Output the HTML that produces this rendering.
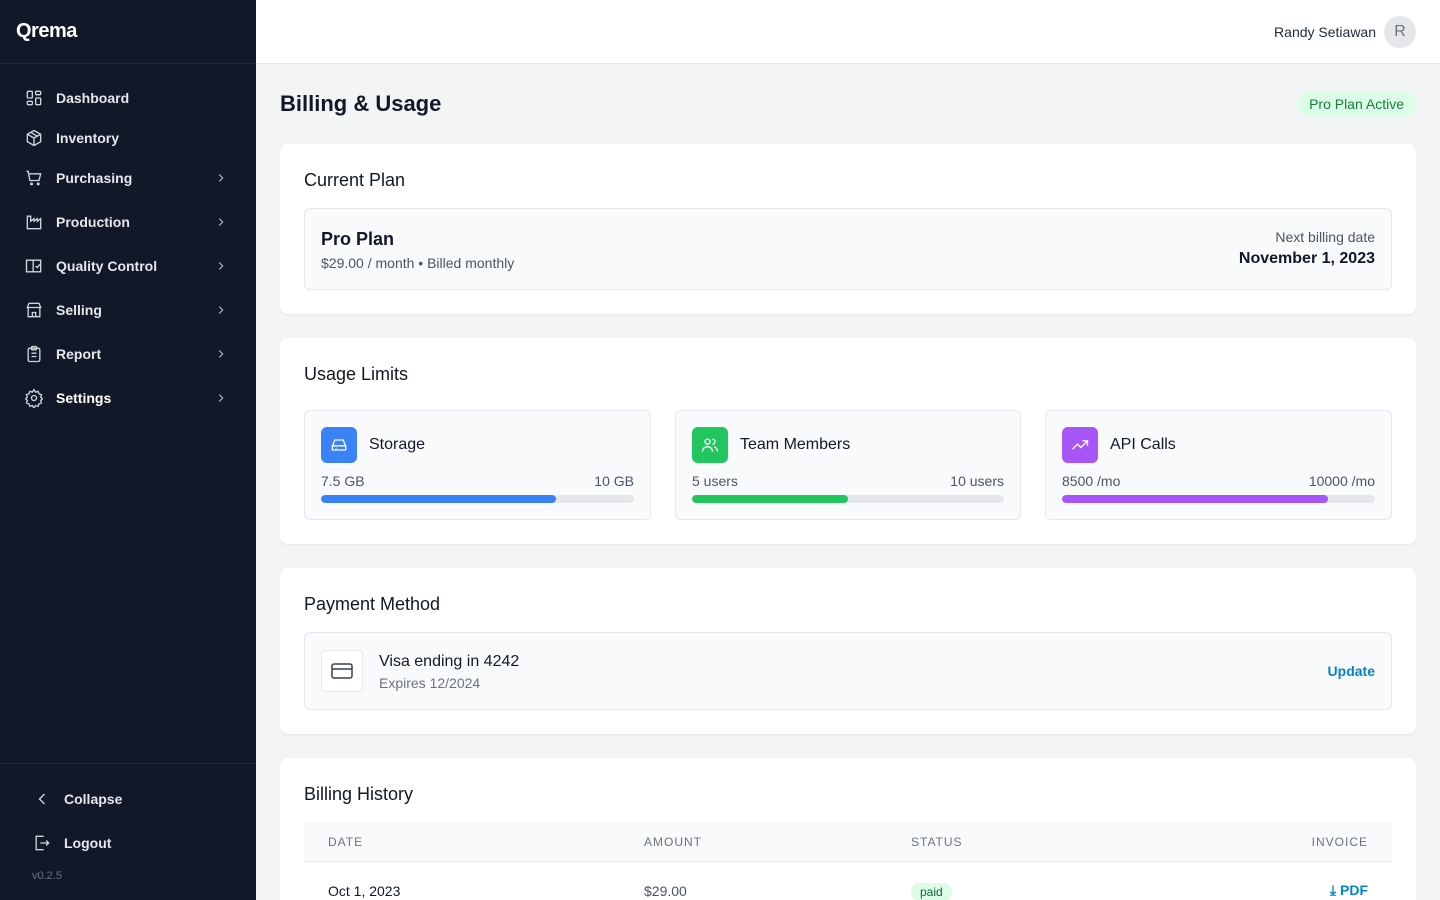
<!DOCTYPE html>
<html><head><meta charset="utf-8"><style>
*{box-sizing:border-box;margin:0;padding:0}
html{width:1440px;height:900px;overflow:hidden}
body{width:1440px;height:900px;overflow:hidden;font-family:"Liberation Sans",sans-serif;background:#f3f4f6;color:#111827;position:relative}
.sb{position:absolute;left:0;top:0;width:256px;height:900px;background:#111827;color:#e5e7eb}
.logo{height:64px;border-bottom:1px solid #1f2937;padding:20px 16px;font-weight:bold;font-size:20px;color:#fff;letter-spacing:-0.5px}
.nav{position:absolute;left:24px;font-size:14px;font-weight:bold;color:#e5e7eb;display:flex;align-items:center;width:210px}
.nav svg{width:20px;height:20px;margin-right:12px;stroke:#d1d5db;fill:none;stroke-width:1.6}
.nav .ch{position:absolute;right:6px;top:3px;width:14px;height:14px;margin:0}
.bot{position:absolute;left:0;top:763px;width:256px;border-top:1px solid #1f2937;height:137px}
.top{position:absolute;left:256px;top:0;right:0;height:64px;background:#fff;border-bottom:1px solid #e5e7eb}
.user{position:absolute;right:24px;top:16px;display:flex;align-items:center;font-size:14px;color:#1f2937}
.av{width:32px;height:32px;border-radius:50%;background:#e5e7eb;color:#6b7280;display:flex;align-items:center;justify-content:center;margin-left:8px;font-size:16px}
.card{position:absolute;left:280px;width:1136px;background:#fff;border-radius:8px;box-shadow:0 1px 2px rgba(0,0,0,.06)}
.card h2{position:absolute;left:24px;top:26px;font-size:18px;font-weight:normal;color:#111827}
.inner{position:absolute;background:#f9fafb;border:1px solid #e5e7eb;border-radius:6px}
.ic{position:absolute;left:16px;top:16px;width:36px;height:36px;border-radius:6px;display:flex;align-items:center;justify-content:center}
.ic svg{width:20px;height:20px;stroke:#fff;fill:none;stroke-width:1.6}
.u .t{position:absolute;left:64px;top:25px;font-size:16px}
.u .l,.u .r{position:absolute;top:62px;font-size:14px;color:#4b5563}
.u .l{left:16px}.u .r{right:16px}
.bar{position:absolute;left:16px;right:16px;top:84px;height:8px;border-radius:4px;background:#e5e7eb;overflow:hidden}
.bar div{height:100%;border-radius:4px}
</style></head><body>
<div class="sb">
<div class="logo">Qrema</div>
<div class="nav" style="top:88px"><svg viewBox="0 0 24 24"><rect x="4" y="4" width="6" height="8" rx="1"/><rect x="14" y="4" width="6" height="4" rx="1"/><rect x="4" y="16" width="6" height="4" rx="1"/><rect x="14" y="12" width="6" height="8" rx="1"/></svg>Dashboard</div>
<div class="nav" style="top:128px"><svg viewBox="0 0 24 24"><path d="M12 3l8 4.5v9L12 21l-8-4.5v-9z M4 7.5l8 4.5 8-4.5 M12 12v9 M8 5.2l8 4.6"/></svg>Inventory</div>
<div class="nav" style="top:168px"><svg viewBox="0 0 24 24"><path d="M3 4h2l2 11h11l2-8H6"/><circle cx="9" cy="19" r="1"/><circle cx="17" cy="19" r="1"/></svg>Purchasing<svg class="ch" viewBox="0 0 24 24"><path d="M9 6l6 6-6 6"/></svg></div>
<div class="nav" style="top:212px"><svg viewBox="0 0 24 24"><path d="M4 20V5h4v6l4-3v3l4-3v3l4-3v12z"/></svg>Production<svg class="ch" viewBox="0 0 24 24"><path d="M9 6l6 6-6 6"/></svg></div>
<div class="nav" style="top:256px"><svg viewBox="0 0 24 24"><path d="M3 5h8v14H3z M11 5h9v14h-9 M14 12l2 2 3-4"/></svg>Quality Control<svg class="ch" viewBox="0 0 24 24"><path d="M9 6l6 6-6 6"/></svg></div>
<div class="nav" style="top:300px"><svg viewBox="0 0 24 24"><path d="M4 9l2-5h12l2 5z M5 9v11h14V9 M10 20v-5h4v5"/></svg>Selling<svg class="ch" viewBox="0 0 24 24"><path d="M9 6l6 6-6 6"/></svg></div>
<div class="nav" style="top:344px"><svg viewBox="0 0 24 24"><rect x="5" y="5" width="14" height="16" rx="2"/><rect x="9" y="3" width="6" height="4" rx="1"/><path d="M9 11h6 M9 15h6"/></svg>Report<svg class="ch" viewBox="0 0 24 24"><path d="M9 6l6 6-6 6"/></svg></div>
<div class="nav" style="top:388px;color:#fff"><svg viewBox="0 0 24 24"><circle cx="12" cy="12" r="3"/><path d="M12 2l2 3 3-1 1 3 3 1-1 3 2 2-2 2 1 3-3 1-1 3-3-1-2 3-2-3-3 1-1-3-3-1 1-3-2-2 2-2-1-3 3-1 1-3 3 1z"/></svg>Settings<svg class="ch" viewBox="0 0 24 24"><path d="M9 6l6 6-6 6"/></svg></div>
<div class="bot">
<div class="nav" style="top:25px;left:32px"><svg viewBox="0 0 24 24"><path d="M15 6l-6 6 6 6"/></svg>Collapse</div>
<div class="nav" style="top:69px;left:32px"><svg viewBox="0 0 24 24"><path d="M14 4H5v16h9 M10 12h10 M17 9l3 3-3 3"/></svg>Logout</div>
<div style="position:absolute;left:32px;top:106px;font-size:11px;color:#6b7280">v0.2.5</div>
</div></div>
<div class="top"><div class="user">Randy Setiawan<div class="av">R</div></div></div>
<div style="position:absolute;left:280px;top:91px;font-size:22px;font-weight:bold;color:#111827">Billing &amp; Usage</div>
<div style="position:absolute;right:24px;top:91px;background:#dcfce7;color:#15803d;font-size:14px;padding:5px 12px;border-radius:14px">Pro Plan Active</div>

<div class="card" style="top:144px;height:170px"><h2>Current Plan</h2>
<div class="inner" style="left:24px;right:24px;top:64px;height:82px">
<div style="position:absolute;left:16px;top:20px;font-size:18px;font-weight:bold">Pro Plan</div>
<div style="position:absolute;left:16px;top:46px;font-size:14px;color:#4b5563">$29.00 / month • Billed monthly</div>
<div style="position:absolute;right:16px;top:20px;font-size:14px;color:#4b5563">Next billing date</div>
<div style="position:absolute;right:16px;top:41px;font-size:16px;font-weight:bold">November 1, 2023</div>
</div></div>

<div class="card" style="top:338px;height:206px"><h2>Usage Limits</h2>
<div class="inner u" style="left:24px;width:347px;top:72px;height:110px"><div class="ic" style="background:#3b82f6"><svg viewBox="0 0 24 24"><path d="M4 13l3-7h10l3 7v5H4z M4 13h16 M8 16h1"/></svg></div><div class="t">Storage</div><div class="l">7.5 GB</div><div class="r">10 GB</div><div class="bar"><div style="width:75%;background:#3b82f6"></div></div></div>
<div class="inner u" style="left:395px;width:346px;top:72px;height:110px"><div class="ic" style="background:#22c55e"><svg viewBox="0 0 24 24"><circle cx="9" cy="8" r="3"/><path d="M3 20c0-4 3-6 6-6s6 2 6 6 M15 5a3 3 0 010 6 M17 14c2 1 4 3 4 6"/></svg></div><div class="t">Team Members</div><div class="l">5 users</div><div class="r">10 users</div><div class="bar"><div style="width:50%;background:#22c55e"></div></div></div>
<div class="inner u" style="left:765px;width:347px;top:72px;height:110px"><div class="ic" style="background:#a855f7"><svg viewBox="0 0 24 24"><path d="M3 17l6-6 4 4 8-8 M15 7h6v6"/></svg></div><div class="t">API Calls</div><div class="l">8500 /mo</div><div class="r">10000 /mo</div><div class="bar"><div style="width:85%;background:#a855f7"></div></div></div>
</div>

<div class="card" style="top:568px;height:166px"><h2>Payment Method</h2>
<div class="inner" style="left:24px;right:24px;top:64px;height:78px">
<div style="position:absolute;left:16px;top:17px;width:42px;height:42px;background:#fff;border:1px solid #e5e7eb;border-radius:4px;display:flex;align-items:center;justify-content:center"><svg viewBox="0 0 24 24" width="24" height="24" fill="none" stroke="#374151" stroke-width="1.5"><rect x="2" y="5" width="20" height="14" rx="2"/><path d="M2 10h20"/></svg></div>
<div style="position:absolute;left:74px;top:20px;font-size:16px">Visa ending in 4242</div>
<div style="position:absolute;left:74px;top:42px;font-size:14px;color:#6b7280">Expires 12/2024</div>
<div style="position:absolute;right:16px;top:30px;font-size:14px;font-weight:bold;color:#0284c7">Update</div>
</div></div>

<div class="card" style="top:758px;height:160px"><h2>Billing History</h2>
<div style="position:absolute;left:24px;right:24px;top:64px;height:40px;background:#f9fafb;border-bottom:1px solid #e5e7eb;font-size:12px;color:#6b7280;letter-spacing:1px">
<span style="position:absolute;left:24px;top:13px">DATE</span><span style="position:absolute;left:340px;top:13px">AMOUNT</span><span style="position:absolute;left:607px;top:13px">STATUS</span><span style="position:absolute;right:24px;top:13px">INVOICE</span></div>
<div style="position:absolute;left:48px;top:125px;font-size:14px">Oct 1, 2023</div>
<div style="position:absolute;left:364px;top:125px;font-size:14px;color:#4b5563">$29.00</div>
<div style="position:absolute;left:631px;top:125px;font-size:12px;color:#166534;background:#dcfce7;padding:2px 9px;border-radius:10px">paid</div>
<div style="position:absolute;right:48px;top:124px;font-size:14px;color:#0284c7;font-weight:bold">⤓ PDF</div>
</div>
</body></html>
